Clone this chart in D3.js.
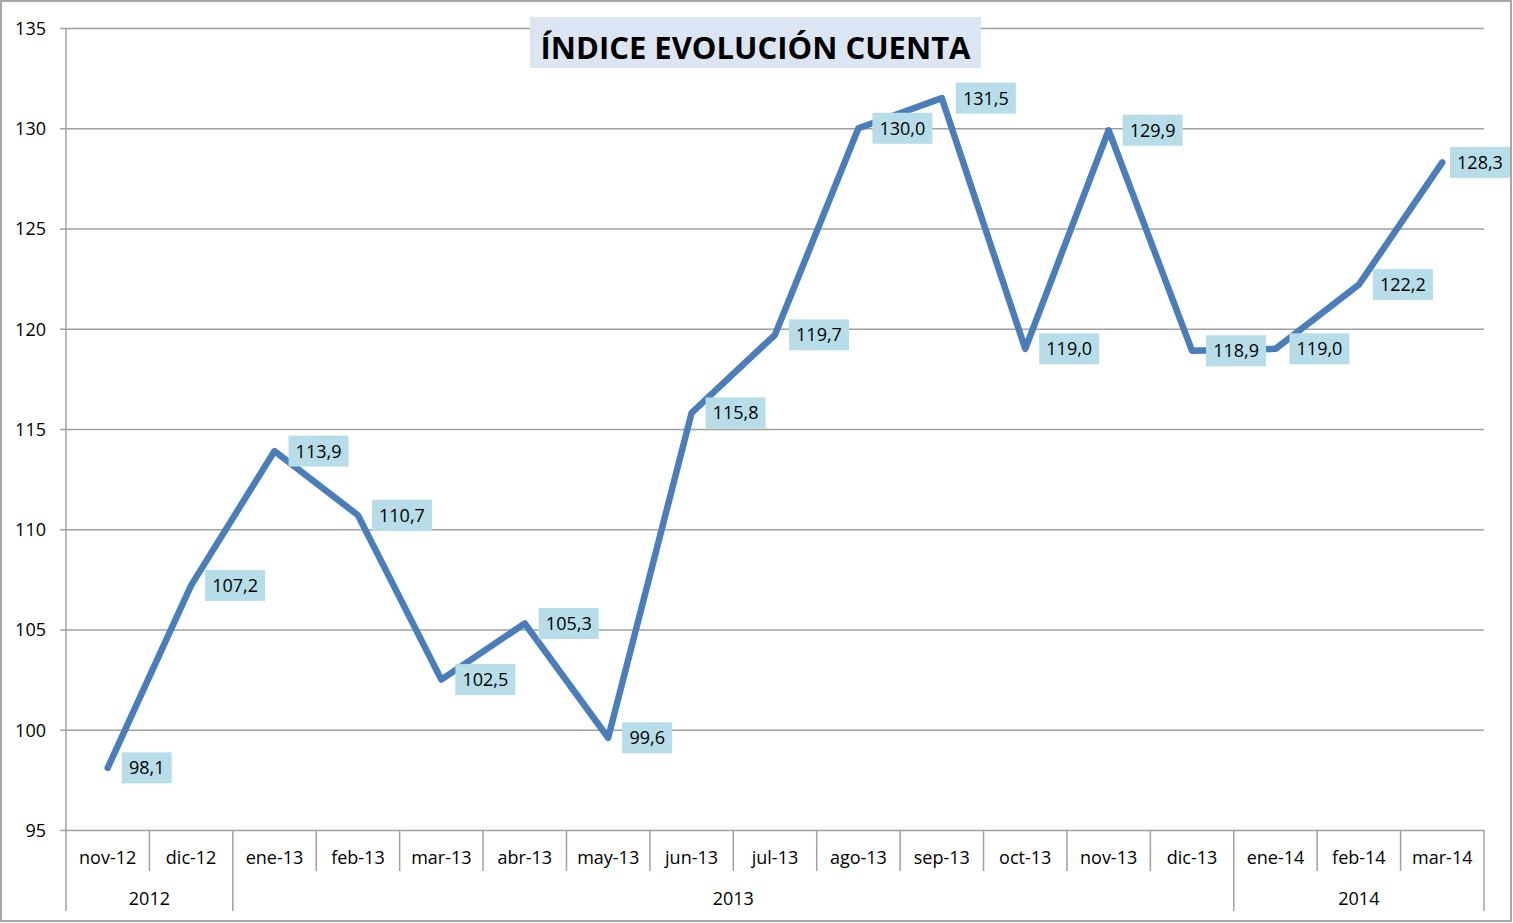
<!DOCTYPE html>
<html>
<head>
<meta charset="utf-8">
<script src="https://d3js.org/d3.v7.min.js"></script>
<style>
  body { margin: 0; background: #fff; }
  svg { display: block; font-family: "Open Sans", "Liberation Sans", sans-serif; }
</style>
</head>
<body>
<div id="chart"></div>
<script>
// Data
const months = ["nov-12", "dic-12", "ene-13", "feb-13", "mar-13", "abr-13", "may-13", "jun-13", "jul-13",
    "ago-13", "sep-13", "oct-13", "nov-13", "dic-13", "ene-14", "feb-14", "mar-14"];
const values = [98.1, 107.2, 113.9, 110.7, 102.5, 105.3, 99.6, 115.8, 119.7,
    130.0, 131.5, 119.0, 129.9, 118.9, 119.0, 122.2, 128.3];
const years = ["2012", "2013", "2014"];
const yearCounts = [2, 12, 3];
const yTicks = [95, 100, 105, 110, 115, 120, 125, 130, 135];
const title = "ÍNDICE EVOLUCIÓN CUENTA";

const W = 1513, H = 923;
const margin = { top: 28, right: 29, bottom: 93, left: 66 };

const svg = d3.select("#chart").append("svg")
    .attr("width", W)
    .attr("height", H);

// Outer border
svg.append("rect")
    .attr("x", 1).attr("y", 1)
    .attr("width", W - 3).attr("height", H - 3)
    .attr("fill", "#fff")
    .attr("stroke", "#a6a6a6")
    .attr("stroke-width", 2);

const x = d3.scaleBand()
    .domain(months)
    .range([margin.left, W - margin.right]);

const y = d3.scaleLinear()
    .domain([95, 135])
    .range([H - margin.bottom, margin.top]);

const gridColor = "#a0a0a0";

// Gridlines + y labels
const yAxis = d3.axisLeft(y)
    .tickValues(yTicks)
    .tickSize(-(W - margin.right - margin.left + 6))
    .tickPadding(14)
    .tickFormat(d3.format("d"));

const gy = svg.append("g")
    .attr("transform", `translate(${margin.left - 6},0)`)
    .call(yAxis);
gy.select(".domain").remove();
gy.selectAll(".tick line")
    .attr("stroke", gridColor)
    .attr("stroke-width", 1.5);
gy.selectAll(".tick text")
    .attr("font-size", 18)
    .attr("font-family", "Open Sans, Liberation Sans, sans-serif")
    .attr("fill", "#000")
    .attr("dy", "0.35em");

// Vertical axis line
const baseY = y(95);
svg.append("line")
    .attr("x1", margin.left).attr("x2", margin.left)
    .attr("y1", margin.top).attr("y2", baseY + 81)
    .attr("stroke", gridColor).attr("stroke-width", 1.5);

// Category separators
const boundaries = months.map((m, i) => i).slice(1);
let yearEnds = [];
let acc = 0;
yearCounts.forEach(c => { acc += c; yearEnds.push(acc); });

svg.selectAll(".sep")
    .data(boundaries)
    .enter().append("line")
    .attr("class", "sep")
    .attr("x1", i => x(months[i])).attr("x2", i => x(months[i]))
    .attr("y1", baseY)
    .attr("y2", i => yearEnds.includes(i) ? baseY + 81 : baseY + 41)
    .attr("stroke", gridColor).attr("stroke-width", 1.5);

// Right edge line
svg.append("line")
    .attr("x1", W - margin.right).attr("x2", W - margin.right)
    .attr("y1", baseY).attr("y2", baseY + 81)
    .attr("stroke", gridColor).attr("stroke-width", 1.5);

// Month labels
svg.selectAll(".mlabel")
    .data(months)
    .enter().append("text")
    .attr("class", "mlabel")
    .attr("x", d => x(d) + x.bandwidth() / 2)
    .attr("y", baseY + 34)
    .attr("text-anchor", "middle")
    .attr("font-size", 18)
    .text(d => d);

// Year labels
let start = 0;
years.forEach((yr, i) => {
    const x0 = x(months[start]);
    const x1 = x(months[start + yearCounts[i] - 1]) + x.bandwidth();
    svg.append("text")
        .attr("x", (x0 + x1) / 2)
        .attr("y", baseY + 75)
        .attr("text-anchor", "middle")
        .attr("font-size", 18)
        .text(yr);
    start += yearCounts[i];
});

// Line
const line = d3.line()
    .x((d, i) => x(months[i]) + x.bandwidth() / 2)
    .y(d => y(d));

svg.append("path")
    .datum(values)
    .attr("fill", "none")
    .attr("stroke", "#4a7ebb")
    .attr("stroke-width", 6.5)
    .attr("stroke-linejoin", "round")
    .attr("stroke-linecap", "round")
    .attr("d", line);

// Data labels (kept inside the chart border, like Excel does)
const fmt = v => v.toFixed(1).replace(".", ",");
const boxW = d => d >= 100 ? 60 : 50;
const labelX = (d, i) => Math.min(x(months[i]) + x.bandwidth() / 2 + 14, W - 3 - boxW(d));

const lab = svg.selectAll(".dlabel")
    .data(values)
    .enter().append("g")
    .attr("class", "dlabel")
    .attr("transform", (d, i) => `translate(${labelX(d, i)},${y(d)})`);

lab.append("rect")
    .attr("y", -15.5)
    .attr("height", 31)
    .attr("width", boxW)
    .attr("fill", "#b7dde8");

lab.append("text")
    .attr("x", d => boxW(d) / 2)
    .attr("y", 6.5)
    .attr("text-anchor", "middle")
    .attr("font-size", 18)
    .text(fmt);

// Title
const tg = svg.append("g");
tg.append("rect")
    .attr("x", 530).attr("y", 17)
    .attr("width", 451).attr("height", 51)
    .attr("fill", "#dce6f2");
tg.append("text")
    .attr("x", 755.5).attr("y", 59)
    .attr("text-anchor", "middle")
    .attr("font-size", 31)
    .attr("font-weight", "bold")
    .text(title);
</script>
</body>
</html>
